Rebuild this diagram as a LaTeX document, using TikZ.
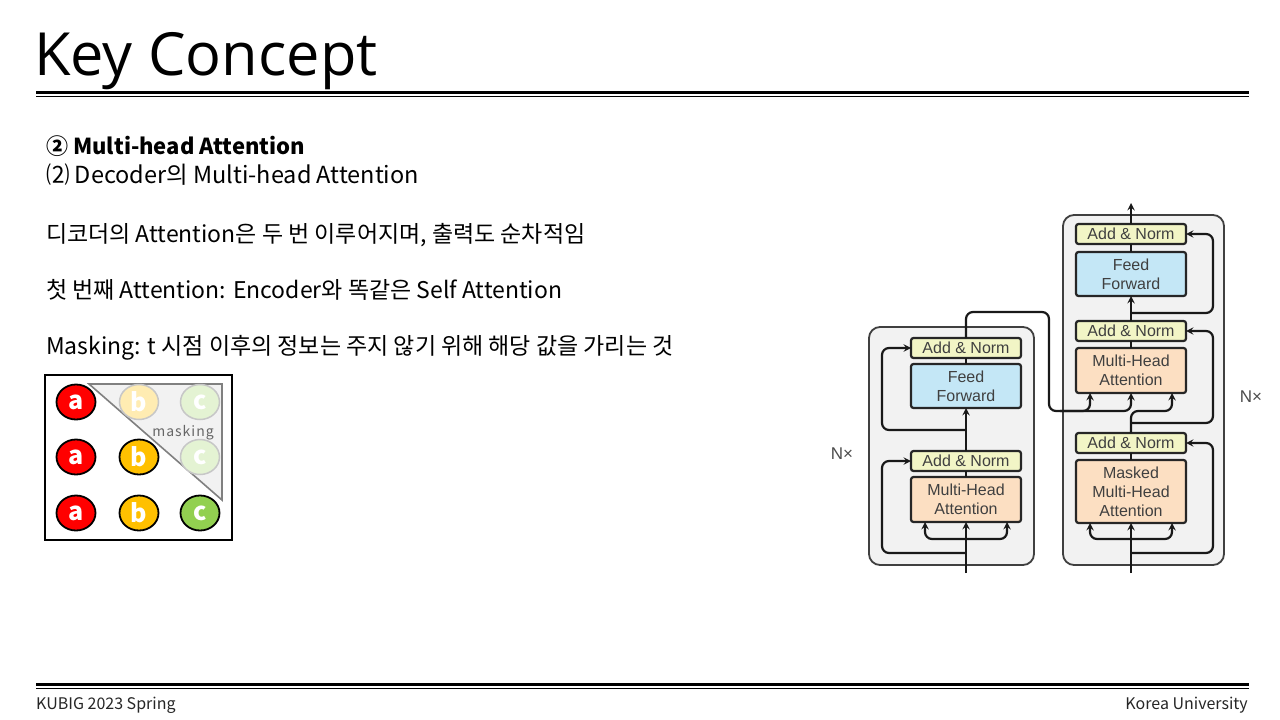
\documentclass[tikz,border=0pt]{standalone}
\usepackage{fontspec}
\setmainfont{Noto Sans CJK KR}
\newfontfamily\titlefont{Open Sans}
\newfontfamily\figfont{Liberation Sans}
\usetikzlibrary{arrows,positioning,shapes.geometric}
\definecolor{normcol}{HTML}{F2F5C6}
\definecolor{ffcol}{HTML}{C4E7F6}
\definecolor{attcol}{HTML}{FCDFC2}
\definecolor{layercol}{HTML}{F2F2F2}
\definecolor{tokred}{HTML}{FF0000}
\definecolor{tokyellow}{HTML}{FFC000}
\definecolor{tokgreen}{HTML}{92D050}
\tikzset{
    >=stealth,
    x=1pt, y=-1pt,
    body text/.style={anchor=base west, inner sep=0pt, font=\fontsize{23}{23}\selectfont},
    block/.style={draw=black!85, line width=2.2pt, rounded corners=2.5pt, outer sep=0pt,
        minimum width=110pt, align=center, text=black!75,
        font=\figfont\fontsize{16}{19}\selectfont},
    add norm/.style={block, fill=normcol, minimum height=20pt, inner sep=0pt},
    feed box/.style={block, fill=ffcol, minimum height=44pt},
    attn box/.style={block, fill=attcol, minimum height=45pt},
    layer box/.style={draw=black!75, fill=layercol, line width=1.8pt, rounded corners=11pt},
    flow/.style={line width=2.2pt, black!90, rounded corners=7pt},
    token/.style={ellipse, draw, line width=1.8pt, minimum width=39pt, minimum height=35pt,
        inner sep=0pt, text=white, font=\bfseries\fontsize{25}{25}\selectfont},
    faded token/.style={token, draw=black!22, line width=1.5pt}
}
\begin{document}
\begin{tikzpicture}
    \useasboundingbox[fill=white] (0,0) rectangle (1280,720);

    % title and footer
    \node[anchor=base west, inner sep=0pt, font=\titlefont\fontsize{59.5}{60}\selectfont] (title) at (34,75) {Key Concept};
    \draw[line width=3pt] (36,92.5) -- (1249,92.5);
    \draw[line width=1.5pt] (36,96.5) -- (1249,96.5);
    \draw[line width=3pt] (36,684.5) -- (1249,684.5);
    \draw[line width=1.5pt] (36,688.5) -- (1249,688.5);
    \node[anchor=base west, inner sep=0pt, text=black!85, font=\fontsize{16}{16}\selectfont] (footl) at (36,709) {KUBIG 2023 Spring};
    \node[anchor=base east, inner sep=0pt, text=black!85, font=\fontsize{16}{16}\selectfont] (footr) at (1248,709) {Korea University};

    % text
    \node[body text, font=\bfseries\fontsize{22}{22}\selectfont] (head) at (46,154) {② Multi-head Attention};
    \node[body text, font=\fontsize{23.5}{24}\selectfont] (sub) at (46,183) {⑵ Decoder의 Multi-head Attention};
    \node[body text] (line1) at (46,242) {디코더의 Attention은 두 번 이루어지며, 출력도 순차적임};
    \node[body text] (line2) at (46,298) {첫 번째 Attention: Encoder와 똑같은 Self Attention};
    \node[body text] (line3) at (46,354) {Masking: t 시점 이후의 정보는 주지 않기 위해 해당 값을 가리는 것};

    % masking grid
    \draw[line width=2pt] (45,375) rectangle (232,540);
    \draw[gray, fill=black!5, line width=1.6pt] (89,384) -- (222,384) -- (222,500) -- cycle;
    \node[token, fill=tokred] (a1) at (76,402) {a};
    \node[faded token, fill=tokyellow!30] (b1) at (139,402) {b};
    \node[faded token, fill=tokgreen!25] (c1) at (200,402) {c};
    \node[token, fill=tokred] (a2) at (76,457) {a};
    \node[token, fill=tokyellow] (b2) at (139,457) {b};
    \node[faded token, fill=tokgreen!25] (c2) at (200,457) {c};
    \node[token, fill=tokred] (a3) at (76,513) {a};
    \node[token, fill=tokyellow] (b3) at (139,513) {b};
    \node[token, fill=tokgreen] (c3) at (200,513) {c};
    \node[text=black!60, font=\fontsize{14}{14}\selectfont] (mask) at (183,433) {m\kern1pt a\kern1pt s\kern1pt k\kern1pt i\kern1pt n\kern1pt g};

    % encoder and decoder layers
    \draw[layer box] (869,327) rectangle (1034,565);
    \draw[layer box] (1063,215) rectangle (1224,565);
    \node[text=black!70, font=\figfont\fontsize{17}{17}\selectfont] (encn) at (842,454) {N×};
    \node[text=black!70, font=\figfont\fontsize{17}{17}\selectfont] (decn) at (1251,397) {N×};

    \node[attn box] (encatt) at (966,499.5) {Multi-Head\\Attention};
    \node[add norm] (encan1) [above = 6pt of encatt] {Add \& Norm};
    \node[feed box] (encff) [above = 43pt of encan1] {Feed\\Forward};
    \node[add norm] (encan2) [above = 6pt of encff] {Add \& Norm};

    \node[attn box, minimum height=63pt] (decmask) at (1131,491.5) {Masked\\Multi-Head\\Attention};
    \node[add norm] (decan1) [above = 7pt of decmask] {Add \& Norm};
    \node[attn box] (decatt) [above = 40pt of decan1] {Multi-Head\\Attention};
    \node[add norm] (decan2) [above = 7pt of decatt] {Add \& Norm};
    \node[feed box] (decff) [above = 25pt of decan2] {Feed\\Forward};
    \node[add norm] (decan3) [above = 8pt of decff] {Add \& Norm};

    \coordinate (encin) at (966,573);
    \coordinate (encfork) at (966,539);
    \coordinate (encres1) at (966,553);
    \coordinate (encres2) at (966,430);
    \coordinate (decin) at (1131,573);
    \coordinate (decfork) at (1131,539);
    \coordinate (decres1) at (1131,553);
    \coordinate (decres2) at (1131,423);
    \coordinate (decres3) at (1131,313);
    \coordinate (decout) at (1131,203);

    % encoder connectors
    \draw[flow, ->] (encin) -- (encatt.south);
    \draw[flow, ->] (encfork) -| ([xshift=-41pt]encatt.south);
    \draw[flow, ->] (encfork) -| ([xshift=41pt]encatt.south);
    \draw[flow, ->] (encres1) -- ++(-84,0) |- (encan1.west);
    \draw[flow] (encatt.north) -- (encan1.south);
    \draw[flow, ->] (encan1.north) -- (encff.south);
    \draw[flow, ->] (encres2) -- ++(-84,0) |- (encan2.west);
    \draw[flow] (encff.north) -- (encan2.south);
    \draw[flow, ->] (encan2.north) -- ++(0,-26) -| (1049,411) -| ([xshift=-41pt]decatt.south);
    \draw[flow, ->] (1060,411) -| (decatt.south);

    % decoder connectors
    \draw[flow, ->] (decin) -- (decmask.south);
    \draw[flow, ->] (decfork) -| ([xshift=-41pt]decmask.south);
    \draw[flow, ->] (decfork) -| ([xshift=41pt]decmask.south);
    \draw[flow, ->] (decres1) -- ++(82,0) |- (decan1.east);
    \draw[flow] (decmask.north) -- (decan1.south);
    \draw[flow, ->] (decan1.north) -- ++(0,-22) -| ([xshift=41pt]decatt.south);
    \draw[flow, ->] (decres2) -- ++(82,0) |- (decan2.east);
    \draw[flow] (decatt.north) -- (decan2.south);
    \draw[flow, ->] (decan2.north) -- (decff.south);
    \draw[flow, ->] (decres3) -- ++(82,0) |- (decan3.east);
    \draw[flow] (decff.north) -- (decan3.south);
    \draw[flow, ->] (decan3.north) -- (decout);
\end{tikzpicture}
\end{document}
